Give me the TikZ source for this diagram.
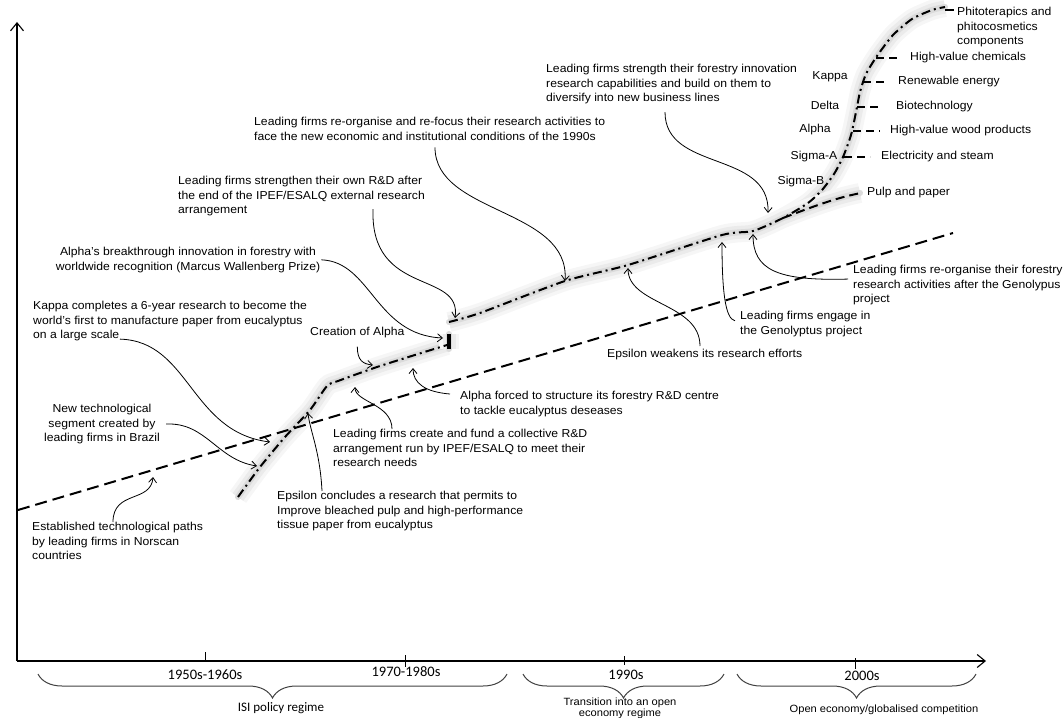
\documentclass[tikz,border=0pt]{standalone}
\usepackage{fontspec}
\setmainfont{Liberation Sans}[FakeStretch=1.06]
\newfontfamily\yrfont{Carlito}
\usetikzlibrary{arrows.meta,positioning,decorations.pathreplacing,calc}

\begin{document}
\begin{tikzpicture}[x=1pt,y=-1pt,
    note/.style={inner sep=0pt,align=left,font=\fontsize{11.5}{14.5}\selectfont},
    yr/.style={inner sep=0pt,font=\yrfont\fontsize{14.5}{16}\selectfont},
    arr/.style={-{Straight Barb[length=5pt,width=8pt]},line width=0.8pt},
    ax/.style={-{Straight Barb[length=8pt,width=13pt]},line width=1.1pt},
    halo/.style={draw=gray!28,line width=6pt,line cap=round,line join=round,
      preaction={draw=gray!7,line width=20pt},
      preaction={draw=gray!16,line width=13pt}},
    trail/.style={line width=2pt,dash pattern=on 9pt off 4pt on 2pt off 4pt},
    est/.style={line width=2pt,dash pattern=on 12pt off 6pt},
    stub/.style={line width=2pt,dash pattern=on 8pt off 5pt},
    brc/.style={decorate,decoration={brace,mirror,amplitude=24pt},black!75,line width=1pt}
  ]
  \useasboundingbox (0,0) rectangle (1064,717);

  % glow under the new trajectory
  \path[halo] plot[smooth,tension=.4] coordinates {(238,497) (260,467) (285,437) (310,410) (327,386) (338,381) (380,366) (447,345)};
  \path[halo] (449,349) -- (449,334);
  \path[halo] plot[smooth,tension=.4] coordinates {(449,322) (480,313) (565,281) (628,265) (722,235) (753,231) (783,218) (808,203) (822,190) (834,174) (843,157) (851,135) (856,112) (860,92) (866,74) (877,56) (893,35) (912,19) (932,10) (945,7)};
  \path[halo] (783,218) .. controls (812,207) and (835,198) .. (860,193);

  % axes
  \coordinate (o) at (17,661);
  \coordinate (ytop) at (17,22);
  \coordinate (xend) at (986,661);
  \draw[ax] (o) -- (ytop);
  \draw[ax] (o) -- (xend);
  \foreach \x/\ya/\yb in {205/652/661,405/655/667,624/656/665,855/658/669}
    \draw[line width=0.8pt] (\x,\ya) -- (\x,\yb);

  % periods
  \node[yr] (y50) at (205,675) {1950s-1960s};
  \node[yr] (y70) at (406,672) {1970-1980s};
  \node[yr] (y90) at (626,675) {1990s};
  \node[yr] (y00) at (862,676) {2000s};
  \draw[brc] (38,674) -- (507,674);
  \draw[brc] (523,674) -- (724,674);
  \draw[brc] (737,674) -- (976,674);
  \node[yr,font=\yrfont\fontsize{13}{15}\selectfont] (isi) at (281,708) {ISI policy regime};
  \node[note,align=center,anchor=north,font=\fontsize{10.5}{10.5}\selectfont] (trans) at (620,698) {Transition into an open\\economy regime};
  \node[note,font=\fontsize{10.5}{13}\selectfont] (open) at (884,710) {Open economy/globalised competition};

  % established paths
  \draw[est] (18,510) -- (953,233);

  % new trajectory
  \coordinate (fork) at (783,218);
  \node[note,anchor=west] (pulp) at (867,193) {Pulp and paper};
  \draw[line width=2pt,dash pattern=on 9pt off 5pt] (fork) .. controls (812,207) and (835,198) .. ([xshift=-6pt]pulp.west);
  \draw[trail] plot[smooth,tension=.4] coordinates {(238,497) (260,467) (285,437) (310,410) (327,386) (338,381) (380,366) (447,345)};
  \draw[line width=3.5pt] (449,349) -- (449,334);
  \draw[trail] plot[smooth,tension=.4] coordinates {(449,322) (480,313) (565,281) (628,265) (722,235) (753,231) (783,218) (808,203) (822,190) (834,174) (843,157) (851,135) (856,112) (860,92) (866,74) (877,56) (893,35) (912,19) (932,10) (945,7)};

  % business lines
  \foreach \nm/\x/\y/\lx/\g/\txt in {elec/844/157/881/11/Electricity and steam,
      wood/853/131/890/10/High-value wood products, bio/857/107/896/17/Biotechnology,
      energy/863/82/898/10/Renewable energy, chem/876/58/910/12/High-value chemicals} {
    \node[note,anchor=west] (\nm) at (\lx,\y) {\txt};
    \draw[stub] (\x,\y) -- ([xshift=-\g pt]\nm.west);
  }
  \node[note,anchor=north west] (phito) at (957,7) {Phitoterapics and\\phitocosmetics\\components};
  \draw[stub,dash pattern=on 9pt off 3pt] (945,10) -- ([yshift=-3pt]phito.north west);

  % firms
  \foreach \nm/\x/\y/\txt in {kap/830/77/Kappa, del/825/105/Delta, alp/815/130/Alpha,
      sga/814/157/Sigma-A, sgb/801/182/Sigma-B}
    \node[note] (\nm) at (\x,\y) {\txt};

  % points hit by the notes
  \foreach \n/\x/\y in {nor/153/477, bra/257/466, kap6/270/442, ep1/308/413, col/355/387,
      cre/373/365, dis/413/368, wal/443/338, own/455/318, ref/565/281, eps/628/268,
      gen/722/242, reo/753/234, div/768/213}
    \coordinate (\n) at (\x,\y);

  % notes, left
  \node[note,anchor=north west] (norscan) at (32,522) {Established technological paths\\by leading firms in Norscan\\countries};
  \draw[arr] ([xshift=81pt]norscan.north west) .. controls +(0,-32) and +(-2,26) .. (nor);
  \node[note,align=center,anchor=north] (brazil) at (102,404) {New technological\\segment created by\\leading firms in Brazil};
  \draw[arr] ([xshift=6pt]brazil.east) .. controls +(40,-2) and +(-40,-6) .. (bra);
  \node[note,anchor=north west] (kappa6) at (33,301) {Kappa completes a 6-year research to become the\\world's first to manufacture paper from eucalyptus\\on a large scale};
  \draw[arr] ([xshift=87pt,yshift=2pt]kappa6.south west) .. controls +(70,2) and +(-80,-10) .. (kap6);
  \node[note,align=center,anchor=north] (wallen) at (188,247) {Alpha's breakthrough innovation in forestry with\\worldwide recognition (Marcus Wallenberg Prize)};
  \draw[arr] ([xshift=1pt]wallen.east) .. controls +(50,2) and +(-68,-3) .. (wal);
  \node[note,anchor=north west] (ownrd) at (178,176) {Leading firms strengthen their own R\&D after\\the end of the IPEF/ESALQ external research\\arrangement};
  \draw[arr] ([xshift=195pt,yshift=7pt]ownrd.south west) .. controls +(-3,88) and +(7,-48) .. (own);
  \node[note,anchor=west] (creat) at (310,333) {Creation of Alpha};
  \draw[arr] ([yshift=-8pt]creat.south) .. controls +(0,14) and +(-10,-1) .. (cre);

  % notes, middle
  \node[note,anchor=north west] (collect) at (333,429) {Leading firms create and fund a collective R\&D\\arrangement run by IPEF/ESALQ to meet their\\research needs};
  \draw[arr] ([xshift=59pt]collect.north west) .. controls +(0,-25) and +(0,15) .. (col);
  \node[note,anchor=north west] (bleach) at (277,491) {Epsilon concludes a research that permits to\\Improve bleached pulp and high-performance\\tissue paper from eucalyptus};
  \draw[arr] ([xshift=45pt]bleach.north west) .. controls +(-2,-40) and +(2,18) .. (ep1);
  \node[note,anchor=north west] (disease) at (460,391) {Alpha forced to structure its forestry R\&D centre\\to tackle eucalyptus deseases};
  \draw[arr] ([xshift=-10pt,yshift=-3pt]disease.north west) .. controls +(-25,-2) and +(0,15) .. (dis);
  \node[note,anchor=north west] (refocus) at (254,117) {Leading firms re-organise and re-focus their research activities to\\face the new economic and institutional conditions of the 1990s};
  \draw[arr] ([xshift=181pt,yshift=-7pt]refocus.south west) .. controls +(0,67) and +(5,-73) .. (ref);

  % notes, right
  \node[note,anchor=north west] (weaken) at (607,349) {Epsilon weakens its research efforts};
  \draw[arr] ([xshift=93pt,yshift=3pt]weaken.north west) .. controls +(0,-43) and +(0,37) .. (eps);
  \node[note,anchor=north west] (geneng) at (740,311) {Leading firms engage in\\the Genolyptus project};
  \draw[arr] ([xshift=-5pt,yshift=3pt]geneng.west) .. controls +(-10,-2) and +(0,48) .. (gen);
  \node[note,anchor=north west] (genreo) at (853,265) {Leading firms re-organise their forestry\\research activities after the Genolypus\\project};
  \draw[arr] ([xshift=-5pt,yshift=6pt]genreo.west) .. controls +(-71,2) and +(0,36) .. (reo);
  \node[note,anchor=north west] (divers) at (546,64) {Leading firms strength their forestry innovation\\research capabilities and build on them to\\diversify into new business lines};
  \draw[arr] ([xshift=119pt,yshift=-8pt]divers.south west) .. controls +(0,60) and +(2,-63) .. (div);
\end{tikzpicture}
\end{document}
